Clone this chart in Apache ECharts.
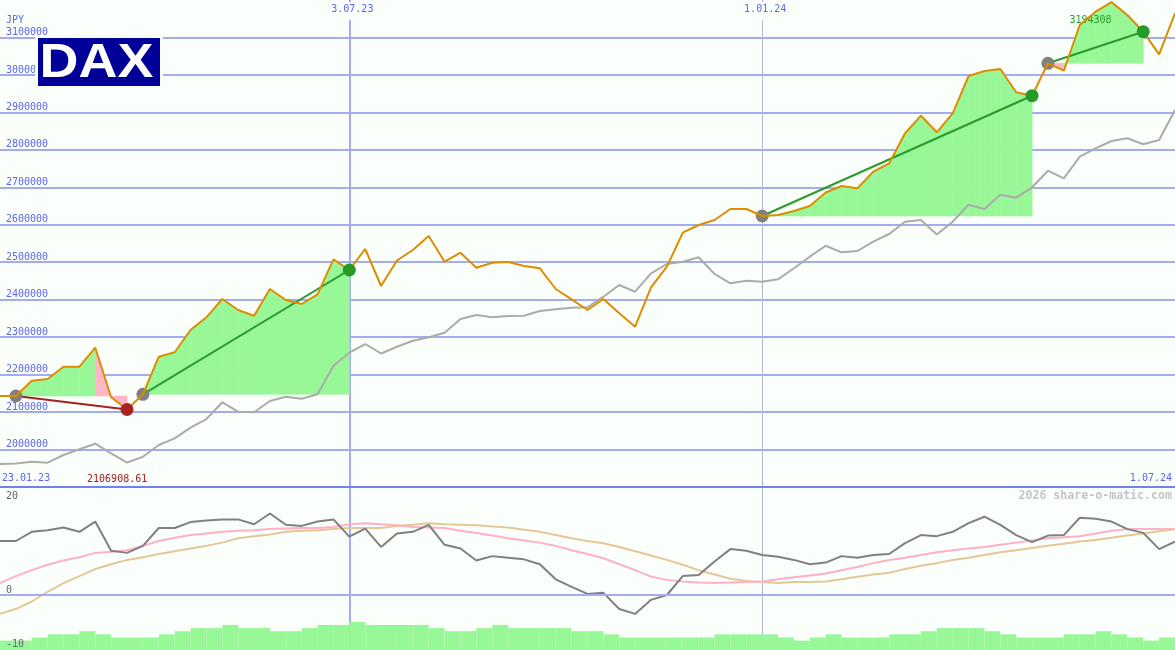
<!DOCTYPE html>
<html><head><meta charset="utf-8">
<script src="https://cdn.jsdelivr.net/npm/echarts@6/dist/echarts.min.js"></script>
<style>html,body{margin:0;padding:0;background:#fbfffb}#c{width:1175px;height:650px}</style>
</head><body><div id="c"></div><script>
// ---------- data ----------
const price = [2142900, 2142900, 2183800, 2188300, 2221100, 2221100, 2271800, 2139500, 2106908.61, 2147500,
 2247800, 2259600, 2319100, 2353000, 2401800, 2372500, 2357300, 2428500, 2399200, 2388500,
 2414400, 2507800, 2479300, 2535300, 2436600, 2504600, 2532600, 2570000, 2501400, 2525400,
 2485400, 2498700, 2500600, 2489900, 2483800, 2428500, 2401000, 2372500, 2401800, 2363700,
 2327900, 2433100, 2488100, 2578800, 2599400, 2612700, 2642100, 2642100, 2623400, 2626100,
 2636800, 2650100, 2686100, 2703500, 2697400, 2741700, 2764100, 2844200, 2891200, 2846800,
 2897600, 2997100, 3010500, 3015800, 2953600, 2944500, 3031000, 3011300, 3133300, 3168800,
 3194308, 3160000, 3115400, 3055000, 3164500];
const bench = [1961400, 1962700, 1967500, 1964900, 1985400, 2000600, 2015600, 1989900, 1964900, 1980900,
 2012100, 2030000, 2058300, 2081500, 2126100, 2101000, 2099400, 2129600, 2141000, 2135700,
 2147500, 2223800, 2258500, 2281700, 2256400, 2274500, 2290500, 2299600, 2311900, 2348500,
 2359100, 2353000, 2356500, 2357300, 2369800, 2374400, 2378600, 2379700, 2408000, 2439200,
 2421300, 2470400, 2495300, 2501400, 2513200, 2468600, 2443700, 2450700, 2448000, 2454400,
 2483800, 2514800, 2544100, 2526500, 2530000, 2554800, 2575400, 2608200, 2612700, 2574000,
 2608200, 2653600, 2642100, 2680300, 2672300, 2700000, 2744300, 2724000, 2781700, 2804100,
 2823600, 2830800, 2814800, 2826300, 2906400];
const momentum = [10.0, 10.0, 11.7, 12.0, 12.5, 11.7, 13.6, 8.2, 7.8, 9.1,
 12.4, 12.4, 13.5, 13.8, 14.0, 14.0, 13.1, 15.1, 13.0, 12.8,
 13.6, 14.0, 10.8, 12.3, 8.9, 11.4, 11.7, 13.0, 9.3, 8.6,
 6.4, 7.2, 6.9, 6.6, 5.7, 2.9, 1.5, 0.2, 0.4, -2.6,
 -3.5, -0.9, 0.0, 3.5, 3.7, 6.2, 8.5, 8.2, 7.4, 7.1,
 6.5, 5.7, 6.0, 7.2, 6.9, 7.4, 7.6, 9.6, 11.1, 10.9,
 11.7, 13.3, 14.5, 13.0, 11.1, 9.8, 11.0, 11.1, 14.3, 14.1,
 13.6, 12.2, 11.5, 8.5, 9.9];
const maFast = [2.2, 3.5, 4.6, 5.6, 6.4, 7.0, 7.8, 8.0, 8.3, 9.1,
 10.0, 10.6, 11.1, 11.4, 11.7, 11.9, 12.0, 12.2, 12.3, 12.4,
 12.4, 12.6, 13.1, 13.3, 13.1, 12.9, 12.6, 12.5, 12.4, 11.9,
 11.5, 11.0, 10.5, 10.1, 9.7, 9.1, 8.3, 7.6, 6.8, 5.7,
 4.6, 3.4, 2.8, 2.5, 2.3, 2.2, 2.3, 2.4, 2.5, 2.9,
 3.3, 3.6, 4.0, 4.6, 5.2, 5.9, 6.5, 6.9, 7.4, 7.9,
 8.3, 8.6, 8.9, 9.3, 9.7, 10.1, 10.5, 10.7, 10.9, 11.4,
 11.9, 12.2, 12.2, 12.2, 12.2];
const maSlow = [-3.5, -2.6, -1.2, 0.6, 2.2, 3.5, 4.8, 5.7, 6.5, 7.0,
 7.6, 8.1, 8.6, 9.1, 9.7, 10.5, 10.9, 11.2, 11.7, 11.9,
 12.0, 12.2, 12.4, 12.4, 12.4, 12.8, 13.0, 13.3, 13.1, 13.0,
 12.9, 12.7, 12.5, 12.1, 11.7, 11.1, 10.5, 10.0, 9.6, 8.9,
 8.1, 7.3, 6.5, 5.6, 4.6, 3.8, 3.0, 2.6, 2.4, 2.2,
 2.4, 2.4, 2.5, 2.9, 3.4, 3.8, 4.1, 4.8, 5.4, 5.9,
 6.5, 6.9, 7.4, 7.9, 8.3, 8.7, 9.1, 9.5, 9.9, 10.2,
 10.6, 11.0, 11.4, 11.8, 12.2];
const volume = [3, 3, 4, 5, 5, 6, 5, 4, 4, 4,
 5, 6, 7, 7, 8, 7, 7, 6, 6, 7,
 8, 8, 9, 8, 8, 8, 8, 7, 6, 6,
 7, 8, 7, 7, 7, 7, 6, 6, 5, 4,
 4, 4, 4, 4, 4, 5, 5, 5, 5, 4,
 3, 4, 5, 4, 4, 4, 5, 5, 6, 7,
 7, 7, 6, 5, 4, 4, 4, 5, 5, 6,
 5, 4, 3, 4];
const tradeEntry = [1, 9, 48, 66];
const tradeExit = [8, 22, 65, 72];
const yTicks = [2000000, 2100000, 2200000, 2300000, 2400000, 2500000, 2600000, 2700000, 2800000, 2900000, 3000000, 3100000];
const dateIdx = [0, 22, 48, 74];
const dateLabels = ['23.01.23', '3.07.23', '1.01.24', '1.07.24'];

// ---------- style ----------
const BG = '#fbfffb';
const BLUE_TXT = '#5a66f0';
const GRID_BLUE = '#a3acf0';
const MONO = '"DejaVu Sans Mono", "Liberation Mono", monospace';
const GREEN_FILL = '#98f898';
const PINK_FILL = '#ffb7c5';

const N = price.length;
const pts = a => a.map((v, i) => [i, v]);
const fmtDate = v => { const k = dateIdx.indexOf(Math.round(v)); return k >= 0 ? dateLabels[k] : ''; };
const fmtNum = v => String(v);

const fillData = [];
tradeEntry.forEach((e, t) => { for (let i = e; i < tradeExit[t]; i++) fillData.push([i, t, price[i]]); });
const tradeData = tradeEntry.map((e, t) => [e, tradeExit[t], t, price[e]]);
const profit = t => price[tradeExit[t]] >= price[tradeEntry[t]];

const chart = echarts.init(document.getElementById('c'), null, {renderer: 'canvas'});
const lbl = {fontFamily: MONO, fontSize: 10, color: BLUE_TXT};
const gridBase = {left: 0, right: 0, containLabel: false, outerBoundsMode: 'none'};

const option = {
  backgroundColor: BG,
  animation: false,
  grid: [
    Object.assign({top: 0, height: 487}, gridBase),
    Object.assign({top: 487, height: 162}, gridBase),
    Object.assign({top: 487, height: 163}, gridBase)
  ],
  xAxis: [
    {gridIndex: 0, type: 'value', min: 0, max: N - 1, position: 'bottom', z: 10,
      axisLine: {show: true, onZero: false, lineStyle: {color: '#7282ec', width: 2}},
      axisTick: {show: false}, splitLine: {show: false},
      axisLabel: Object.assign({inside: true, customValues: [dateIdx[0]], formatter: fmtDate, align: 'left', margin: 4, padding: [0, 0, 0, 2]}, lbl)},
    {gridIndex: 0, type: 'value', min: 0, max: N - 1, position: 'bottom', z: 10,
      axisLine: {show: false}, axisTick: {show: false}, splitLine: {show: false},
      axisLabel: Object.assign({inside: true, customValues: [dateIdx[3]], formatter: fmtDate, align: 'right', margin: 4, padding: [0, 3, 0, 0]}, lbl)},
    {gridIndex: 0, type: 'value', min: 0, max: N - 1, position: 'top', z: 10,
      axisLine: {show: false}, axisTick: {show: false}, splitLine: {show: false},
      axisLabel: Object.assign({inside: true, customValues: [dateIdx[1], dateIdx[2]], formatter: fmtDate, align: 'center', margin: 2,
        backgroundColor: BG, padding: [2, 2, 6, 8]}, lbl)},
    {gridIndex: 1, type: 'value', min: 0, max: N - 1, show: false},
    {gridIndex: 2, type: 'category', data: volume.map((_, i) => i), boundaryGap: true, show: false}
  ],
  yAxis: [
    {gridIndex: 0, type: 'value', min: 1900000, max: 3200000, position: 'left',
      axisLine: {show: false}, axisTick: {show: false, customValues: yTicks},
      splitLine: {show: true, lineStyle: {color: GRID_BLUE, width: 2}},
      axisLabel: Object.assign({inside: true, customValues: yTicks, formatter: fmtNum, verticalAlign: 'bottom', margin: 6}, lbl)},
    {gridIndex: 1, type: 'value', min: -10, max: 20, position: 'left', z: 10,
      axisLine: {show: false}, axisTick: {show: false, customValues: [0]},
      splitLine: {show: true, lineStyle: {color: GRID_BLUE, width: 2}},
      axisLabel: Object.assign({}, lbl, {inside: true, customValues: [-10, 0], formatter: fmtNum, verticalAlign: 'bottom', margin: 6, color: '#666'})},
    {gridIndex: 1, type: 'value', min: -10, max: 20, position: 'left', offset: 0, z: 10,
      axisLine: {show: false}, axisTick: {show: false, customValues: [20]}, splitLine: {show: false},
      axisLabel: Object.assign({}, lbl, {inside: true, customValues: [20], formatter: fmtNum, verticalAlign: 'top', margin: 6, padding: [4, 0, 0, 0], color: '#666'})},
    {gridIndex: 2, type: 'value', min: 0, max: 52, show: false}
  ],
  series: [
    // volume bars
    {type: 'bar', xAxisIndex: 4, yAxisIndex: 3, data: volume, barWidth: '100%', barCategoryGap: '0%',
      itemStyle: {color: GREEN_FILL}, silent: true, z: 2},
    // trade fills
    {type: 'custom', xAxisIndex: 0, yAxisIndex: 0, data: fillData, encode: {x: 0, y: 2}, z: 2, silent: true, clip: false,
      renderItem: (params, api) => {
        const i = api.value(0), t = api.value(1);
        const base = price[tradeEntry[t]];
        const p0 = api.coord([i, price[i]]), p1 = api.coord([i + 1, price[i + 1]]);
        const b1 = api.coord([i + 1, base]), b0 = api.coord([i, base]);
        const col = price[i + 1] >= base ? GREEN_FILL : PINK_FILL;
        return {type: 'polygon', shape: {points: [p0, p1, b1, b0]}, style: {fill: col, stroke: col, lineWidth: 0.6}};
      }},
    // benchmark grey
    {type: 'line', xAxisIndex: 0, yAxisIndex: 0, data: pts(bench), symbol: 'none', z: 3, silent: true,
      lineStyle: {color: '#ababab', width: 2},
      markLine: {silent: true, symbol: 'none', z: 1, label: {show: false},
        data: [
          {xAxis: dateIdx[1], lineStyle: {color: '#a3acf0', width: 2, type: 'solid'}},
          {xAxis: dateIdx[2], lineStyle: {color: '#b3b6d8', width: 1, type: 'solid'}}
        ]}},
    // trade lines
    {type: 'custom', xAxisIndex: 0, yAxisIndex: 0, data: tradeData, encode: {x: [0, 1], y: 3}, z: 4, silent: true, clip: false,
      renderItem: (params, api) => {
        const e = api.value(0), x = api.value(1), t = api.value(2);
        const a = api.coord([e, price[e]]), b = api.coord([x, price[x]]);
        return {type: 'line', shape: {x1: a[0], y1: a[1], x2: b[0], y2: b[1]},
          style: {stroke: profit(t) ? '#2a9a2a' : '#a52222', lineWidth: 2}};
      }},
    // entry dots
    {type: 'scatter', xAxisIndex: 0, yAxisIndex: 0, data: tradeEntry.map(e => [e, price[e]]),
      symbolSize: 13, itemStyle: {color: '#808080', opacity: 1}, z: 5, silent: true},
    // price line
    {type: 'line', xAxisIndex: 0, yAxisIndex: 0, data: pts(price), symbol: 'none', z: 6, silent: true,
      lineStyle: {color: '#de8c00', width: 2},
      markPoint: {symbol: 'circle', symbolSize: 1, itemStyle: {color: 'rgba(0,0,0,0)'}, z: 5, silent: true,
        data: [
          {type: 'min', label: {show: true, position: 'inside', align: 'left', verticalAlign: 'middle', offset: [-40, 70],
            fontFamily: MONO, fontSize: 10, color: '#a02020', formatter: p => String(p.value)}},
          {type: 'max', label: {show: true, position: 'inside', align: 'left', verticalAlign: 'middle', offset: [-42, 18],
            fontFamily: MONO, fontSize: 10, color: '#2a9a2a', formatter: p => String(p.value)}}
        ]}},
    // exit dots
    {type: 'scatter', xAxisIndex: 0, yAxisIndex: 0,
      data: tradeExit.map((x, t) => ({value: [x, price[x]], itemStyle: {color: profit(t) ? '#259a25' : '#a82222', opacity: 1}})),
      symbolSize: 13, z: 7, silent: true},
    // lower panel
    {type: 'line', xAxisIndex: 3, yAxisIndex: 1, data: pts(maSlow), symbol: 'none', z: 3, silent: true,
      lineStyle: {color: '#e4c796', width: 2},
      markLine: {silent: true, symbol: 'none', z: 1, label: {show: false},
        data: [
          {xAxis: dateIdx[1], lineStyle: {color: '#a3acf0', width: 2, type: 'solid'}},
          {xAxis: dateIdx[2], lineStyle: {color: '#b3b6d8', width: 1, type: 'solid'}}
        ]}},
    {type: 'line', xAxisIndex: 3, yAxisIndex: 1, data: pts(maFast), symbol: 'none', z: 4, silent: true,
      lineStyle: {color: '#ffb0c4', width: 2}},
    {type: 'line', xAxisIndex: 3, yAxisIndex: 1, data: pts(momentum), symbol: 'none', z: 5, silent: true,
      lineStyle: {color: '#808080', width: 2}}
  ],
  graphic: [
    {type: 'text', left: 6, top: 15, z: 20, style: {text: 'JPY', font: '10px ' + MONO, fill: BLUE_TXT}},
    {type: 'text', right: 3, top: 490, z: 20, style: {text: '2026 share-o-matic.com', font: 'bold 11.6px ' + MONO, fill: '#c4c4c4'}},
    {type: 'rect', left: 35, top: 36, z: 20, shape: {width: 128, height: 53}, style: {fill: BG}},
    {type: 'rect', left: 38, top: 38, z: 21, shape: {width: 122, height: 48}, style: {fill: '#000099'}},
    {type: 'text', x: 44, y: 63.5, z: 22, scaleX: 1.1, originX: 44, originY: 63.5,
      style: {text: 'DAX', font: 'bold 49px "Liberation Sans", Arial, sans-serif', fill: '#ffffff', textVerticalAlign: 'middle', textAlign: 'left'}}
  ]
};
chart.setOption(option);
</script></body></html>
